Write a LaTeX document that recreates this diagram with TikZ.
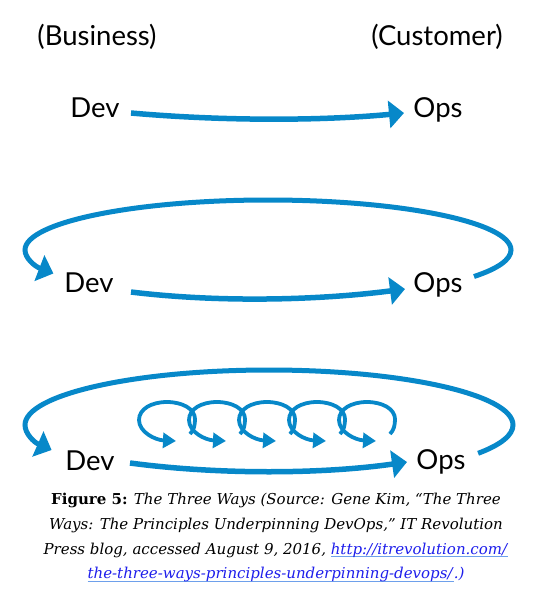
\documentclass[tikz,border=0pt]{standalone}
\usepackage{fontspec}
\setmainfont{Lato}
\newfontfamily\capfont{DejaVu Serif}
\usetikzlibrary{arrows.meta,calc}
\definecolor{flowblue}{RGB}{7,136,201}
\definecolor{linkblue}{RGB}{30,30,235}
\definecolor{ulblue}{RGB}{110,160,235}
% underlined hyperlink-style text
\newcommand\weblink[1]{\setbox0\hbox{\color{linkblue}#1}\rlap{\color{ulblue}\rule[-2.8pt]{\wd0}{0.9pt}}\box0}
\begin{document}
\begin{tikzpicture}[x=1pt,y=-1pt,
  label/.style={font=\fontsize{27.5}{30}\selectfont, inner sep=0pt, anchor=base},
  flow/.style={draw=flowblue, line width=5.5pt, -{Triangle[length=15pt,width=27pt]}},
  loopback/.style={draw=flowblue, line width=5pt, -{Triangle[length=15pt,width=27pt]}},
  curl/.style={draw=flowblue, line width=3.8pt, -{Triangle[length=13pt,width=15pt]}},
]
\useasboundingbox (0,0) rectangle (540,589);

% column headings
\node[label] (biz)  at (97,45)  {(Business)};
\node[label] (cust) at (437,45) {(Customer)};

% first way
\node[label] (dev1) at (95,117)  {Dev};
\node[label] (ops1) at (438,117) {Ops};
\draw[flow] ($(dev1.base)+(36,-4)$) .. controls +(90,8) and +(-84,8) .. ($(ops1.base)+(-34,-4)$);

% second way
\node[label] (dev2) at (89,292)  {Dev};
\node[label] (ops2) at (438,292) {Ops};
\draw[flow] ($(dev2.base)+(42,0)$) .. controls +(90,11) and +(-84,11) .. ($(ops2.base)+(-33,-3)$);
\coordinate (l2s) at ($(ops2.base)+(36,-15.5)$);
\coordinate (l2e) at ($(dev2.base)+(-35.6,-18.5)$);
\draw[loopback] (l2s) .. controls (498.1,268.6) and (511,259.4) .. (511,250)
  .. controls (511,222.4) and (402,200) .. (268,200)
  .. controls (134,200) and (25,222.4) .. (25,250)
  .. controls (25,258.2) and (34.7,266.3) .. (l2e);

% third way
\node[label] (dev3) at (90,470)  {Dev};
\node[label] (ops3) at (441,469) {Ops};
\draw[flow] ($(dev3.base)+(40,-7)$) .. controls +(90,12) and +(-84,12) .. ($(ops3.base)+(-34,-7)$);
\coordinate (l3s) at ($(ops3.base)+(37.1,-15.7)$);
\coordinate (l3e) at ($(dev3.base)+(-38.4,-20)$);
\draw[loopback] (l3s) .. controls (500.9,444.8) and (513,435) .. (513,425)
  .. controls (513,394.6) and (403.8,370) .. (269,370)
  .. controls (134.2,370) and (25,394.6) .. (25,425)
  .. controls (25,433.7) and (34.1,442.3) .. (l3e);

% chain of small learning loops
\foreach \cx in {167,217,267,317,367}{
  \draw[curl] (\cx+23,434) .. controls (\cx+27,430) and (\cx+28,425) .. (\cx+28,419)
    .. controls (\cx+28,409) and (\cx+15.5,402) .. (\cx,402)
    .. controls (\cx-15.5,402) and (\cx-28,409) .. (\cx-28,420)
    .. controls (\cx-28,432) and (\cx-12,440) .. (\cx+9,441);
}

% caption
\node[font=\capfont\fontsize{15}{24.7}\selectfont, align=center, inner sep=0pt, anchor=north] (cap) at (276,493)
  {\textbf{Figure 5:} \textit{The Three Ways (Source: Gene Kim, “The Three}\\
   \textit{Ways: The Principles Underpinning DevOps,” IT Revolution}\\
   \textit{Press blog, accessed August 9, 2016, }\weblink{\textit{http://itrevolution.com/}}\\
   \weblink{\textit{the-three-ways-principles-underpinning-devops/}}\textit{.)}};
\end{tikzpicture}
\end{document}
